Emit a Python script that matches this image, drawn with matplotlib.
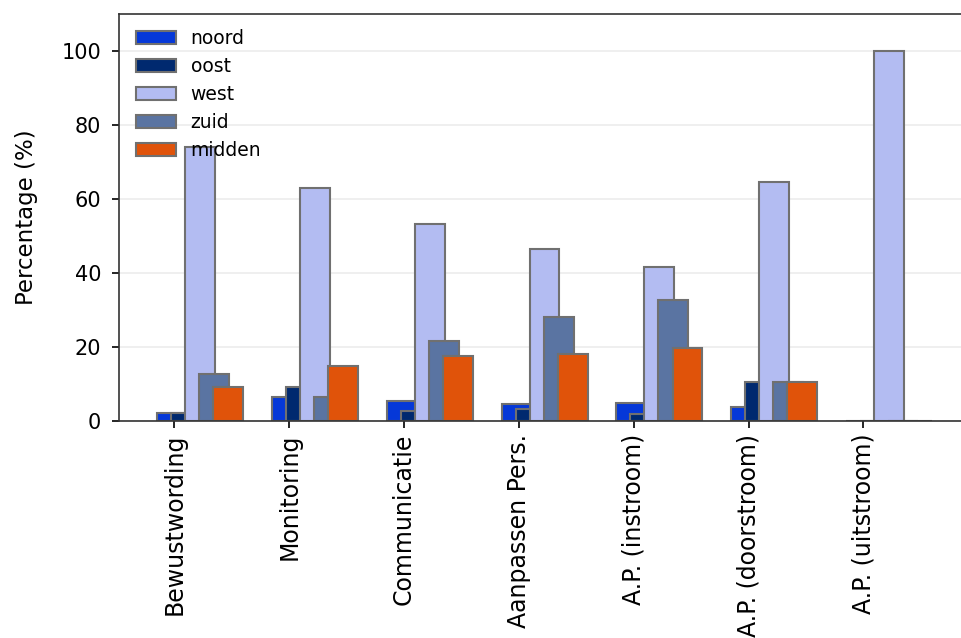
import matplotlib

matplotlib.use("Agg")
import matplotlib.pyplot as plt
import numpy as np

CATEGORIES = [
    "Bewustwording",
    "Monitoring",
    "Communicatie",
    "Aanpassen Pers.",
    "A.P. (instroom)",
    "A.P. (doorstroom)",
    "A.P. (uitstroom)",
]

REGIONS = ["noord", "oost", "west", "zuid", "midden"]

NOORD = [2.3, 6.5, 5.4, 4.5, 4.8, 3.7, 0.0]
OOST = [2.3, 9.3, 2.8, 3.2, 1.8, 10.6, 0.0]
WEST = [74.0, 63.0, 53.3, 46.6, 41.6, 64.6, 100.0]
ZUID = [12.6, 6.6, 21.6, 28.1, 32.6, 10.6, 0.0]
MIDDEN = [9.3, 15.0, 17.6, 18.0, 19.8, 10.6, 0.0]

COLORS = ["#0538d8", "#00296f", "#b3bcf2", "#5a74a2", "#e0530a"]


def main() -> None:
    series = [NOORD, OOST, WEST, ZUID, MIDDEN]
    x = np.arange(len(CATEGORIES))
    width = 0.26
    step = 0.122

    fig = plt.figure(figsize=(9.61, 6.38), dpi=100)
    ax = fig.add_axes([0.124, 0.34, 0.876, 0.638])

    for i, (name, values, color) in enumerate(zip(REGIONS, series, COLORS)):
        ax.bar(
            x - 0.02 + i * step,
            values,
            width=width,
            color=color,
            edgecolor="#707070",
            linewidth=1.5,
            label=name,
            zorder=2,
        )

    ax.set_xlim(-0.48, 6.85)
    ax.set_ylim(0, 110)
    ax.set_yticks([0, 20, 40, 60, 80, 100])
    ax.set_xticks(x)
    ax.set_xticklabels(CATEGORIES, rotation=90, fontsize=17)
    ax.tick_params(axis="y", labelsize=15, length=5, width=1.2, pad=8)
    ax.tick_params(axis="x", length=5, width=1.2, pad=4)
    ax.set_ylabel("Percentage (%)", fontsize=16.5, labelpad=16.5)
    ax.yaxis.grid(True, color="#ececec", linewidth=1.2, zorder=0)
    ax.set_axisbelow(True)
    for side in ["left", "bottom", "top"]:
        ax.spines[side].set_color("#333333")
        ax.spines[side].set_linewidth(1.2)
    ax.spines["right"].set_visible(False)

    ax.legend(
        loc="upper left",
        frameon=False,
        fontsize=13.5,
        handlelength=2.1,
        handleheight=0.7,
        labelspacing=0.48,
        borderaxespad=0.4,
        bbox_to_anchor=(0.0025, 1.0),
    )

    fig.savefig("out.png", dpi=100)
    plt.close(fig)


if __name__ == "__main__":
    main()
